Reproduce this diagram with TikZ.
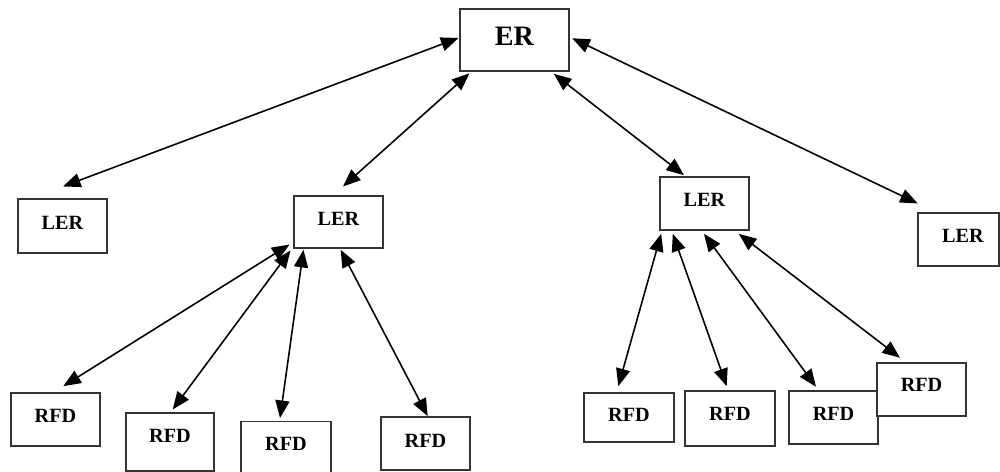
\documentclass[tikz,border=0pt]{standalone}
\usepackage{fontspec}
\setmainfont{Liberation Serif}
\usetikzlibrary{arrows.meta,calc}
\begin{document}
\begin{tikzpicture}[x=0.02cm,y=-0.02cm,
  box/.style={draw=black!80, line width=0.6pt, rectangle, inner sep=0pt, fill=white,
     font=\fontsize{11.5}{13}\selectfont\bfseries, text height=7.6pt},
  bigbox/.style={box, font=\fontsize{16}{19}\selectfont\bfseries, text height=10.6pt},
  arr/.style={<->, >={Triangle[length=10pt,width=8pt]}, line width=0.9pt}]
\useasboundingbox (0,0) rectangle (1000,472);
% top
\node[bigbox, minimum width=2.18cm, minimum height=1.24cm, text depth=4.5pt] (ER) at (514.5,40) {ER};
% LER level
\node[box, minimum width=1.78cm, minimum height=1.08cm, text depth=4pt] (L1) at (62.5,226) {LER};
\node[box, minimum width=1.78cm, minimum height=1.04cm, text depth=3.7pt] (L2) at (338.5,222) {LER};
\node[box, minimum width=1.78cm, minimum height=1.06cm, text depth=4.3pt] (L3) at (704.5,203.5) {LER};
\node[box, minimum width=1.62cm, minimum height=1.06cm, text depth=4pt] (L4) at (958.5,239.5) {\hspace*{0.18cm}LER};
% RFD level
\node[box, minimum width=1.78cm, minimum height=1.06cm, text depth=4.5pt] (R1) at (55.5,419.5) {RFD};
\node[box, minimum width=1.76cm, minimum height=1.16cm, text depth=6.8pt] (R2) at (170,442) {RFD};
\node[box, minimum width=1.80cm, minimum height=1.07cm, text depth=4.5pt] (R3) at (286,448) {RFD};
\node[box, minimum width=1.78cm, minimum height=1.06cm, text depth=3.6pt] (R4) at (425.5,443.5) {RFD};
\node[box, minimum width=1.80cm, minimum height=0.98cm, text depth=2.5pt] (R5) at (629,417.5) {RFD};
\node[box, minimum width=1.80cm, minimum height=1.10cm, text depth=5.7pt] (R6) at (730,418.5) {RFD};
\node[box, minimum width=1.78cm, minimum height=1.06cm, text depth=4.5pt] (R7) at (833.5,417.5) {RFD};
\node[box, minimum width=1.78cm, minimum height=1.06cm, text depth=4.9pt] (R8) at (921.5,389.5) {RFD};
% ER connectors
\draw[arr] ($(ER.west)+(-1,-2)$) -- ($(L1.north)+(0.5,-12)$);
\draw[arr] ($(ER.south west)+(10,1.7)$) -- ($(L2.north)+(4.5,-9)$);
\draw[arr] ($(ER.south east)+(-15.7,2.3)$) -- ($(L3.north)+(-20.5,-1.3)$);
\draw[arr] ($(ER.east)+(2.7,-1.7)$) -- ($(L4.north west)+(0.3,-9)$);
% L2 connectors
\draw[arr] ($(L2.south west)+(-4,-4)$) -- ($(R1.north)+(7.8,-6.3)$);
\draw[arr] ($(L2.south west)+(-3,2)$) -- ($(R2.north)+(2.7,-3)$);
\draw[arr] ($(L2.south west)+(10,1.3)$) -- ($(R3.north)+(-6,-2.7)$);
\draw[arr] ($(L2.south)+(2.2,1.3)$) -- ($(R4.north)+(2.2,-0.3)$);
% L3 connectors
\draw[arr] ($(L3.south west)+(1.7,3.3)$) -- ($(R5.north)+(-10.7,-6.3)$);
\draw[arr] ($(L3.south west)+(13.3,3.3)$) -- ($(R6.north)+(-3.3,-4.3)$);
\draw[arr] ($(L3.south)+(-0.5,3.3)$) -- ($(R7.north)+(-17.5,-3.7)$);
\draw[arr] ($(L3.south east)+(-10.7,3.3)$) -- ($(R8.north)+(-21.5,-4.7)$);
\end{tikzpicture}
\end{document}
